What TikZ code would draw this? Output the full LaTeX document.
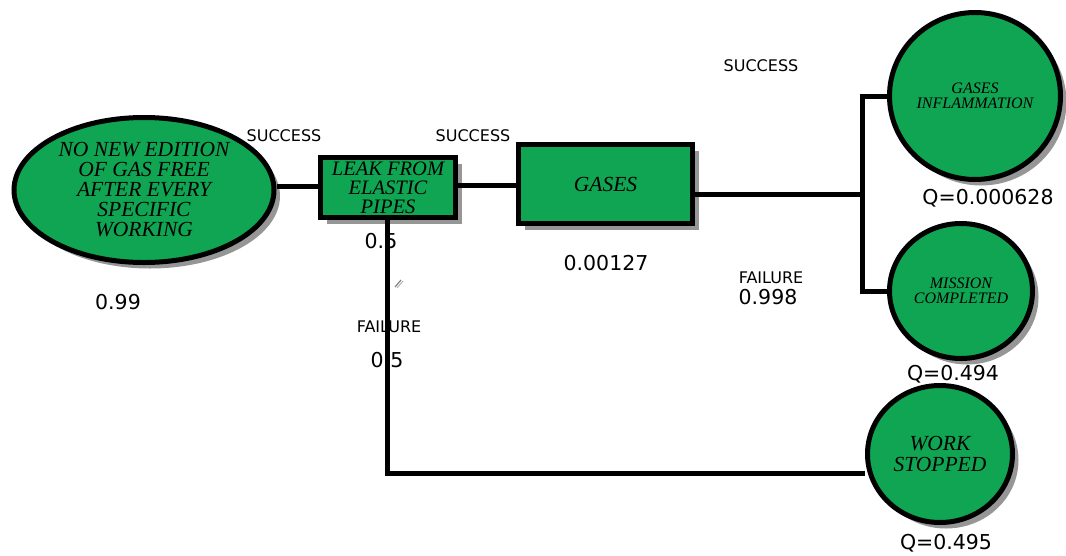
\documentclass[tikz,border=0pt]{standalone}
\usepackage{fontspec}
\setmainfont{Liberation Serif}
\newfontfamily\labfont{DejaVu Sans}
\usetikzlibrary{shapes.geometric,shadows}
\definecolor{evgreen}{RGB}{16,165,82}
\begin{document}
\begin{tikzpicture}[x=1pt,y=-1pt,
  conn/.style={line width=5pt},
  evshape/.style={draw=black, line width=5pt, fill=evgreen, align=center, inner sep=0pt,
    drop shadow={shadow xshift=6pt,shadow yshift=-6pt,fill=black!75,opacity=0.55}},
  bigtxt/.style={font=\itshape\fontsize{21.5}{20}\selectfont},
  boxtxt/.style={font=\itshape\fontsize{20.5}{19}\selectfont},
  smalltxt/.style={font=\itshape\fontsize{16}{15.5}\selectfont},
  lab/.style={font=\labfont\fontsize{16}{18}\selectfont, inner sep=0pt},
  num/.style={font=\labfont\fontsize{20.5}{22}\selectfont, inner sep=0pt}]
\useasboundingbox (0,0) rectangle (1066,555);

% labels (drawn first, lines go over them)
\node[lab] (s1) at (284,136) {SUCCESS};
\node[lab] (s2) at (473,136) {SUCCESS};
\node[lab] (s3) at (761,66) {SUCCESS};
\node[lab] (f1) at (389,327) {FAILURE};
\node[lab] (f2) at (771,278) {FAILURE};
\node[num] (p1) at (118,302) {0.99};
\node[num] (p2) at (381,241) {0.5};
\node[num] (p3) at (387,360) {0.5};
\node[num] (p4) at (606,263) {0.00127};
\node[num] (p5) at (768,297) {0.998};
\node[num] (q1) at (988,198) {Q=0.000628};
\node[num] (q2) at (953,374) {Q=0.494};
\node[num] (q3) at (946,543) {Q=0.495};

% junction coordinates
\coordinate (j) at (862,194);
\coordinate (k) at (387,473);

% shapes
\node[evshape, bigtxt, ellipse, minimum width=260pt, minimum height=145pt] (ell) at (144,190)
  {NO NEW EDITION\\OF GAS FREE\\AFTER EVERY\\SPECIFIC\\WORKING};
\node[evshape, boxtxt, rectangle, minimum width=135pt, minimum height=60pt] (box1) at (388,187.5)
  {LEAK FROM\\ELASTIC\\PIPES};
\node[evshape, bigtxt, rectangle, minimum width=174pt, minimum height=79pt] (box2) at (605.5,184)
  {GASES};
\node[evshape, smalltxt, ellipse, minimum width=171pt, minimum height=167pt] (c1) at (975,96)
  {GASES\\INFLAMMATION};
\node[evshape, smalltxt, ellipse, minimum width=143pt, minimum height=135pt] (c2) at (961,291)
  {MISSION\\COMPLETED};
\node[evshape, font=\itshape\fontsize{21.5}{21}\selectfont, ellipse, minimum width=145pt, minimum height=137pt] (c3) at (940,454)
  {WORK\\STOPPED};

% connectors
\draw[conn] (ell.east |- 0,186) -- (box1.west |- 0,186);
\draw[conn] (box1.east |- 0,185) -- (box2.west |- 0,185);
\draw[conn] (box2.east |- j) -- (j);
\draw[conn] (c1.west) -| (j) |- (c2.west);
\draw[conn] (box1.south -| k) -- (k) -- (c3.west |- k);

% small gray mark
\draw[gray, line width=1.2pt] (395,287) -- (401,280);
\draw[gray!60, line width=1pt] (397,288) -- (403,281);
\end{tikzpicture}
\end{document}
